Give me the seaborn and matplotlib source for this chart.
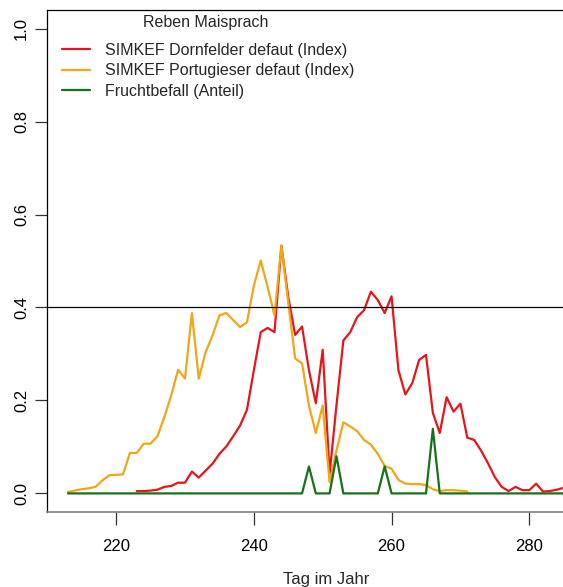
import numpy as np
import pandas as pd
import matplotlib
matplotlib.use("Agg")
import matplotlib.pyplot as plt
import seaborn as sns

sns.set_theme(style="white")
plt.rcParams['font.family'] = ['Liberation Sans', 'DejaVu Sans']

# ---- data ----
red_days = np.arange(223, 286)
red_vals = [0.005, 0.005, 0.006, 0.008, 0.014, 0.016, 0.023, 0.023, 0.047, 0.034,
            0.049, 0.064, 0.085, 0.101, 0.123, 0.146, 0.180, 0.265, 0.347, 0.356,
            0.347, 0.533, 0.422, 0.341, 0.359, 0.265, 0.194, 0.309, 0.042, 0.190,
            0.329, 0.347, 0.379, 0.394, 0.434, 0.416, 0.388, 0.424, 0.265, 0.213,
            0.237, 0.287, 0.298, 0.173, 0.130, 0.207, 0.176, 0.193, 0.120, 0.115,
            0.092, 0.065, 0.035, 0.014, 0.005, 0.014, 0.007, 0.007, 0.021, 0.004,
            0.005, 0.008, 0.012]

orange_days = np.arange(213, 272)
orange_vals = [0.003, 0.006, 0.009, 0.011, 0.014, 0.028, 0.039, 0.040, 0.041, 0.087,
               0.087, 0.107, 0.107, 0.123, 0.164, 0.211, 0.266, 0.247, 0.388, 0.247,
               0.304, 0.340, 0.383, 0.388, 0.373, 0.358, 0.368, 0.447, 0.501, 0.444,
               0.383, 0.533, 0.410, 0.290, 0.280, 0.189, 0.130, 0.189, 0.024, 0.092,
               0.153, 0.144, 0.134, 0.115, 0.105, 0.085, 0.059, 0.053, 0.029, 0.021,
               0.020, 0.020, 0.018, 0.009, 0.005, 0.007, 0.007, 0.006, 0.004]

green_days = np.arange(213, 286)
green_spikes = {248: 0.058, 252: 0.080, 259: 0.058, 266: 0.139}
green_vals = [green_spikes.get(int(d), 0.0) for d in green_days]

labels = ["SIMKEF Dornfelder defaut (Index)",
          "SIMKEF Portugieser defaut (Index)",
          "Fruchtbefall (Anteil)"]
legend_title = "Reben Maisprach"
x_label = "Tag im Jahr"
x_ticks = [220, 240, 260, 280]
y_ticks = [0.0, 0.2, 0.4, 0.6, 0.8, 1.0]
threshold = 0.4

# ---- figure ----
W, H = 563, 587
fig = plt.figure(figsize=(W / 100, H / 100), dpi=100)
left_px, right_px, top_px, bottom_px = 47.3, 605.0, 10.0, 512.0
aw, ah = right_px - left_px, bottom_px - top_px
ax = fig.add_axes([left_px / W, 1 - bottom_px / H, aw / W, ah / H])

lw = 1.6
sns.lineplot(x=red_days, y=red_vals, color="#e8141a", lw=lw, label=labels[0], ax=ax)
sns.lineplot(x=orange_days, y=orange_vals, color="#f2a516", lw=lw, label=labels[1], ax=ax)
sns.lineplot(x=green_days, y=green_vals, color="#17701a", lw=lw, label=labels[2], ax=ax)
ax.axhline(threshold, color="black", lw=0.9)

ax.set_xlim(210.0, 291.0)
ax.set_ylim(-0.04, 1.04)
ax.set_xticks(x_ticks)
ax.set_yticks(y_ticks)
ax.set_yticklabels([f"{v:.1f}" for v in y_ticks], rotation=90, va="center")
ax.tick_params(axis="both", which="both", length=9, width=0.9, color="#333333",
               labelsize=12, colors="black", direction="out", bottom=True, left=True)
ax.tick_params(axis="y", pad=4)
ax.tick_params(axis="x", pad=10.5)
ax.set_xlabel(x_label, fontsize=12, labelpad=13)
ax.set_ylabel("")

for s in ["left", "top", "right"]:
    ax.spines[s].set_color("black")
    ax.spines[s].set_linewidth(0.9)
ax.spines["bottom"].set_color("#808080")
ax.spines["bottom"].set_linewidth(1.2)

leg = ax.legend(loc="upper left",
                bbox_to_anchor=((62 - left_px) / aw, 1 - (42.5 - top_px) / ah),
                frameon=False, fontsize=11.5,
                handlelength=1.75, handletextpad=0.95, labelspacing=0.36,
                borderaxespad=0.0, borderpad=0.0)
ax.text((206 - left_px) / aw, 1 - (22.5 - top_px) / ah, legend_title,
        transform=ax.transAxes, ha="center", va="center", fontsize=11.5)

fig.savefig("out.png", dpi=100)
